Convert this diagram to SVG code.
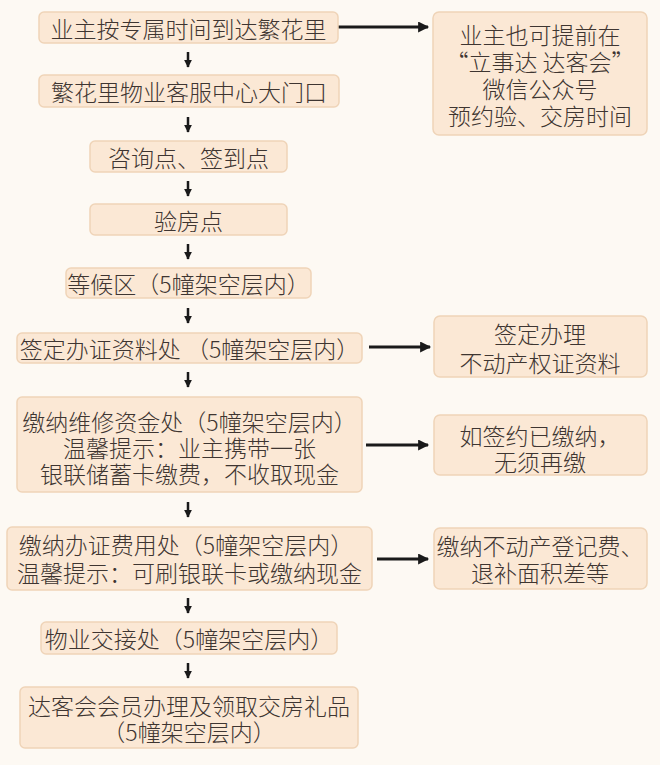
<svg xmlns="http://www.w3.org/2000/svg" width="660" height="765" viewBox="0 0 660 765">
<defs>
<style>
.bx{fill:#fbe8d5;stroke:#efd4b8;stroke-width:1.5}
.t{font-family:"Noto Sans CJK SC","Noto Sans",sans-serif;font-size:23px;font-weight:300;fill:#3e3531;text-anchor:middle;dominant-baseline:central}
.ar{stroke:#1a1a1a;stroke-width:3;fill:none}
.ad{stroke:#1a1a1a;stroke-width:2.5;fill:none}
</style>
<marker id="mh" viewBox="0 0 10 10" refX="9" refY="5" markerWidth="13" markerHeight="11" orient="auto" markerUnits="userSpaceOnUse"><path d="M0,0 L10,5 L0,10 z" fill="#1a1a1a"/></marker>
<marker id="md" viewBox="0 0 10 10" refX="9" refY="5" markerWidth="8" markerHeight="9" orient="auto" markerUnits="userSpaceOnUse"><path d="M0,0 L10,5 L0,10 z" fill="#1a1a1a"/></marker>
</defs>
<rect width="660" height="765" fill="#fdf9f3"/>
<g id="connectors">
<path class="ar" d="M338,27 L428,27" marker-end="url(#mh)"/>
<path class="ar" d="M369,347 L430,347" marker-end="url(#mh)"/>
<path class="ar" d="M366,445 L428,445" marker-end="url(#mh)"/>
<path class="ar" d="M377,559 L428,559" marker-end="url(#mh)"/>
<path class="ad" d="M188,52 L188,67" marker-end="url(#md)"/>
<path class="ad" d="M188,117 L188,132" marker-end="url(#md)"/>
<path class="ad" d="M188,181 L188,196" marker-end="url(#md)"/>
<path class="ad" d="M188,244 L188,259" marker-end="url(#md)"/>
<path class="ad" d="M188,308 L188,323" marker-end="url(#md)"/>
<path class="ad" d="M188,372 L188,387" marker-end="url(#md)"/>
<path class="ad" d="M188,502 L188,517" marker-end="url(#md)"/>
<path class="ad" d="M188,598 L188,613" marker-end="url(#md)"/>
<path class="ad" d="M188,663 L188,678" marker-end="url(#md)"/>
</g>
<g id="n1"><rect class="bx" x="39" y="12" width="299" height="31" rx="5"/><text class="t" x="188.5" y="27.5">业主按专属时间到达繁花里</text></g>
<g id="n2"><rect class="bx" x="39" y="75" width="300" height="32" rx="5"/><text class="t" x="189" y="91">繁花里物业客服中心大门口</text></g>
<g id="n3"><rect class="bx" x="90" y="141" width="197" height="31" rx="5"/><text class="t" x="188.5" y="156.5">咨询点、签到点</text></g>
<g id="n4"><rect class="bx" x="90" y="204" width="197" height="31" rx="5"/><text class="t" x="188.5" y="219.5">验房点</text></g>
<g id="n5"><rect class="bx" x="66" y="268" width="245" height="30" rx="5"/><text class="t" x="188.5" y="283">等候区（5幢架空层内）</text></g>
<g id="n6"><rect class="bx" x="17" y="333" width="345" height="30" rx="5"/><text class="t" x="189.5" y="348">签定办证资料处 （5幢架空层内）</text></g>
<g id="n7"><rect class="bx" x="17" y="397" width="345" height="95" rx="5"/><text class="t" x="189.5" y="421">缴纳维修资金处（5幢架空层内）</text><text class="t" x="189.5" y="447">温馨提示：业主携带一张</text><text class="t" x="189.5" y="473">银联储蓄卡缴费，不收取现金</text></g>
<g id="n8"><rect class="bx" x="7" y="527" width="365" height="63" rx="5"/><text class="t" x="186" y="544">缴纳办证费用处（5幢架空层内）</text><text class="t" x="189.5" y="572">温馨提示：可刷银联卡或缴纳现金</text></g>
<g id="n9"><rect class="bx" x="41" y="622" width="296" height="32" rx="5"/><text class="t" x="189" y="638">物业交接处（5幢架空层内）</text></g>
<g id="n10"><rect class="bx" x="20" y="687" width="338" height="61" rx="5"/><text class="t" x="189" y="705">达客会会员办理及领取交房礼品</text><text class="t" x="189" y="731">（5幢架空层内）</text></g>
<g id="r1"><rect class="bx" x="433" y="12" width="214" height="123" rx="6"/><text class="t" x="540" y="34">业主也可提前在</text><text class="t" x="540" y="61">“立事达 达客会”</text><text class="t" x="540" y="88">微信公众号</text><text class="t" x="540" y="115">预约验、交房时间</text></g>
<g id="r2"><rect class="bx" x="434" y="316" width="213" height="61" rx="6"/><text class="t" x="540" y="333">签定办理</text><text class="t" x="540" y="362">不动产权证资料</text></g>
<g id="r3"><rect class="bx" x="434" y="415" width="213" height="60" rx="6"/><text class="t" x="540" y="435">如签约已缴纳，</text><text class="t" x="540" y="461">无须再缴</text></g>
<g id="r4"><rect class="bx" x="434" y="528" width="213" height="61" rx="6"/><text class="t" x="540" y="545">缴纳不动产登记费、</text><text class="t" x="540" y="572">退补面积差等</text></g>
</svg>
